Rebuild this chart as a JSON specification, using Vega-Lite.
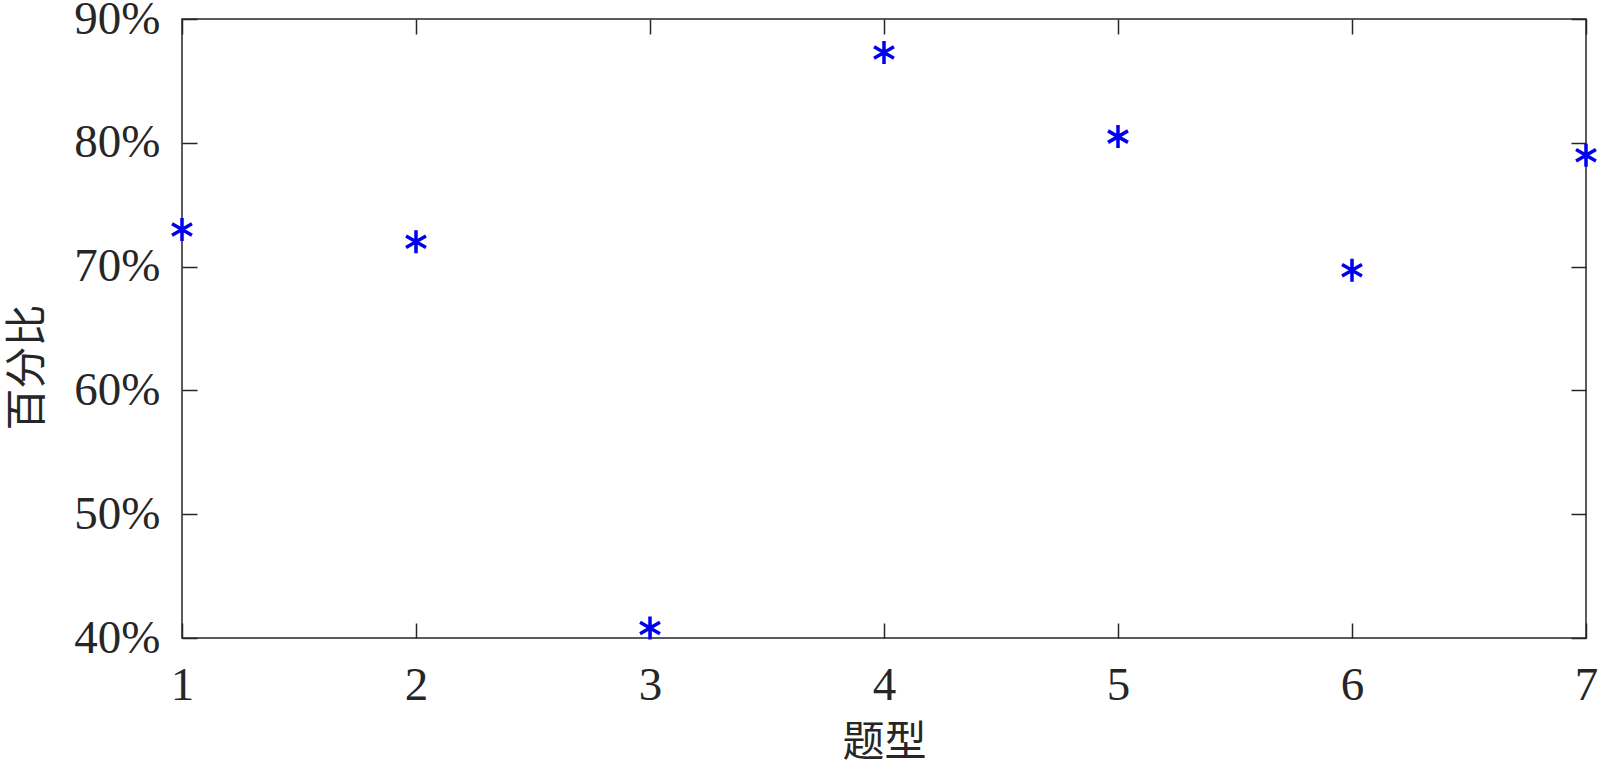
{
  "$schema": "https://vega.github.io/schema/vega-lite/v6.json",
  "width": 1404,
  "height": 619,
  "autosize": "none",
  "padding": {"left": 182, "top": 19, "right": 14, "bottom": 131},
  "background": "white",
  "config": {
    "view": {"stroke": "#262626", "strokeWidth": 1.5},
    "axis": {
      "grid": false,
      "domain": false,
      "labelFont": "Liberation Serif",
      "labelFontSize": 47,
      "labelColor": "#262626",
      "tickColor": "#262626",
      "tickWidth": 1.5,
      "tickSize": -15,
      "labelFlush": false,
      "labelOverlap": false,
      "labelBound": false,
      "titleFont": "Noto Sans CJK SC",
      "titleFontSize": 42,
      "titleFontWeight": "normal",
      "titleColor": "#262626"
    }
  },
  "data": {
    "values": [
      {"type": 1, "pct": 0.730},
      {"type": 2, "pct": 0.720},
      {"type": 3, "pct": 0.408},
      {"type": 4, "pct": 0.873},
      {"type": 5, "pct": 0.805},
      {"type": 6, "pct": 0.697},
      {"type": 7, "pct": 0.790}
    ]
  },
  "resolve": {"axis": {"x": "independent", "y": "independent"}},
  "layer": [
    {
      "mark": {
        "type": "point",
        "shape": "M0,-1L0,1M-0.866,-0.5L0.866,0.5M-0.866,0.5L0.866,-0.5",
        "filled": false,
        "stroke": "#0000F0",
        "strokeWidth": 3.5,
        "size": 529,
        "opacity": 1
      },
      "encoding": {
        "x": {
          "field": "type",
          "type": "quantitative",
          "scale": {"domain": [1, 7], "nice": false, "zero": false},
          "axis": {
            "orient": "bottom",
            "values": [1, 2, 3, 4, 5, 6, 7],
            "format": "d",
            "labelPadding": 39,
            "title": "题型",
            "titleY": 104,
            "titleBaseline": "middle",
            "titleAlign": "center"
          }
        },
        "y": {
          "field": "pct",
          "type": "quantitative",
          "scale": {"domain": [0.4, 0.9], "nice": false, "zero": false},
          "axis": {
            "orient": "left",
            "values": [0.4, 0.5, 0.6, 0.7, 0.8, 0.9],
            "format": ".0%",
            "labelPadding": 37,
            "title": "百分比",
            "titleAngle": -90,
            "titleX": -155,
            "titleY": 348,
            "titleBaseline": "middle",
            "titleAlign": "center"
          }
        }
      }
    },
    {
      "mark": {"type": "point", "opacity": 0},
      "encoding": {
        "x": {
          "field": "type",
          "type": "quantitative",
          "scale": {"domain": [1, 7], "nice": false, "zero": false},
          "axis": {"orient": "top", "values": [1, 2, 3, 4, 5, 6, 7], "labels": false, "title": null}
        },
        "y": {
          "field": "pct",
          "type": "quantitative",
          "scale": {"domain": [0.4, 0.9], "nice": false, "zero": false},
          "axis": {"orient": "right", "values": [0.4, 0.5, 0.6, 0.7, 0.8, 0.9], "labels": false, "title": null}
        }
      }
    }
  ]
}
